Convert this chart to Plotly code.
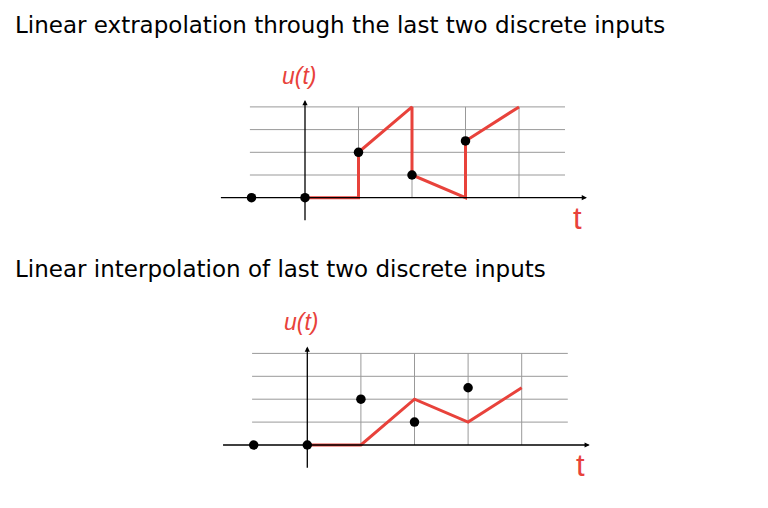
import plotly.graph_objects as go

# ---------------- data ----------------
sample_t = [-1, 0, 1, 2, 3]
sample_u = [0, 0, 2, 1, 2.5]

extrap_t = [0, 1, 1, 2, 2, 3, 3, 4]
extrap_u = [0, 0, 2, 4, 1, 0, 2.5, 4]

interp_t = [0, 1, 2, 3, 4]
interp_u = [0, 0, 2, 1, 2.5]

grid_t = [1, 2, 3, 4]
grid_u = [1, 2, 3, 4]

titles = ["Linear extrapolation through the last two discrete inputs",
          "Linear interpolation of last two discrete inputs"]

RED = "#e8423b"
GRID = "#999999"
OFF = 8          # page body margin
W, H = 760, 492  # figure size


def fx(px):
    return px - OFF


def fy(py):
    return py - OFF


fig = go.Figure()

panels = [
    dict(xa="x", ya="y", lt=extrap_t, lu=extrap_u),
    dict(xa="x2", ya="y2", lt=interp_t, lu=interp_u),
]

shapes = []
annotations = []
for p in panels:
    xa, ya = p["xa"], p["ya"]
    for u in grid_u:
        shapes.append(dict(type="line", xref=xa, yref=ya, x0=-1.03, x1=4.86, y0=u, y1=u,
                           line=dict(color=GRID, width=1), layer="below"))
    for t in grid_t:
        shapes.append(dict(type="line", xref=xa, yref=ya, x0=t, x1=t, y0=0, y1=max(grid_u),
                           line=dict(color=GRID, width=1), layer="below"))
    annotations.append(dict(xref=xa, yref=ya, axref=xa, ayref=ya, x=5.27, y=0, ax=-1.6, ay=0,
                            showarrow=True, arrowhead=2, arrowsize=0.8, arrowwidth=1.3,
                            arrowcolor="black", text=""))
    annotations.append(dict(xref=xa, yref=ya, axref=xa, ayref=ya, x=0, y=4.3, ax=0, ay=-1.06,
                            showarrow=True, arrowhead=2, arrowsize=0.8, arrowwidth=1.3,
                            arrowcolor="black", text=""))
    annotations.append(dict(xref=xa, yref=ya, x=-0.1, y=5.35, showarrow=False,
                            text="<i>u(t)</i>", font=dict(family="Liberation Sans", size=23, color=RED)))
    annotations.append(dict(xref=xa, yref=ya, x=5.1, y=-0.9, showarrow=False,
                            text="t", font=dict(family="Liberation Sans", size=31, color=RED)))
    fig.add_trace(go.Scatter(x=p["lt"], y=p["lu"], mode="lines", xaxis=xa, yaxis=ya,
                             line=dict(color=RED, width=3), showlegend=False, hoverinfo="skip"))
    fig.add_trace(go.Scatter(x=sample_t, y=sample_u, mode="markers", xaxis=xa, yaxis=ya,
                             marker=dict(color="black", size=9.5), showlegend=False))

annotations.append(dict(xref="paper", yref="paper", x=fx(12.5) / W, y=1 - fy(25) / H,
                        xanchor="left", yanchor="middle", showarrow=False, text=titles[0],
                        font=dict(family="DejaVu Sans", size=23, color="black")))
annotations.append(dict(xref="paper", yref="paper", x=fx(12.5) / W, y=1 - fy(269) / H,
                        xanchor="left", yanchor="middle", showarrow=False, text=titles[1],
                        font=dict(family="DejaVu Sans", size=23, color="black")))

ax_common = dict(showgrid=False, zeroline=False, showticklabels=False, ticks="", showline=False,
                 fixedrange=True)

# panel geometry (reference pixels): origin, pixels per unit, vertical extent
ox1, oy1, sx1, sy1 = 305, 197.7, 53.5, 22.7
ox2, oy2, sx2, sy2 = 307.3, 445, 53.6, 22.9
top1, bot1 = 40, 250
top2, bot2 = 290, 495

fig.update_layout(
    width=W, height=H, margin=dict(l=0, r=0, t=0, b=0),
    paper_bgcolor="white", plot_bgcolor="white",
    shapes=shapes, annotations=annotations,
    xaxis=dict(domain=[0, 1], range=[-fx(ox1) / sx1, (W - fx(ox1)) / sx1], anchor="y", **ax_common),
    yaxis=dict(domain=[1 - fy(bot1) / H, 1 - fy(top1) / H],
               range=[-(bot1 - oy1) / sy1, (oy1 - top1) / sy1], anchor="x", **ax_common),
    xaxis2=dict(domain=[0, 1], range=[-fx(ox2) / sx2, (W - fx(ox2)) / sx2], anchor="y2", **ax_common),
    yaxis2=dict(domain=[1 - fy(bot2) / H, 1 - fy(top2) / H],
                range=[-(bot2 - oy2) / sy2, (oy2 - top2) / sy2], anchor="x2", **ax_common),
)

fig.write_html("out.html")
